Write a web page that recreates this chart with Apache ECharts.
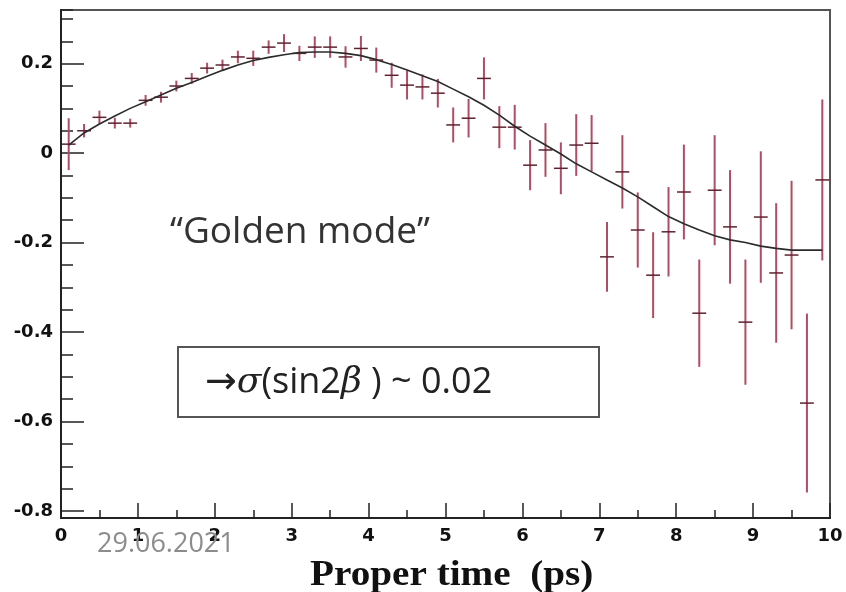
<!DOCTYPE html>
<html>
<head>
<meta charset="utf-8">
<script src="https://cdn.jsdelivr.net/npm/echarts@6/dist/echarts.min.js"></script>
<style>
  html, body { margin: 0; padding: 0; background: #fff; }
  #chart { width: 846px; height: 592px; }
</style>
</head>
<body>
<div id="chart"></div>
<script>
// Proper-time bins (ps), centre of each 0.2 ps bin
const times = [
  0.1, 0.3, 0.5, 0.7, 0.9, 1.1, 1.3, 1.5, 1.7, 1.9,
  2.1, 2.3, 2.5, 2.7, 2.9, 3.1, 3.3, 3.5, 3.7, 3.9,
  4.1, 4.3, 4.5, 4.7, 4.9, 5.1, 5.3, 5.5, 5.7, 5.9,
  6.1, 6.3, 6.5, 6.7, 6.9, 7.1, 7.3, 7.5, 7.7, 7.9,
  8.1, 8.3, 8.5, 8.7, 8.9, 9.1, 9.3, 9.5, 9.7, 9.9
];

// Measured asymmetry per bin
const asym = [
  0.020, 0.050, 0.080, 0.067, 0.067, 0.118, 0.125, 0.150, 0.167, 0.190,
  0.197, 0.215, 0.212, 0.237, 0.246, 0.223, 0.237, 0.237, 0.215, 0.234,
  0.208, 0.174, 0.152, 0.148, 0.134, 0.063, 0.078, 0.167, 0.058, 0.058,
  -0.027, 0.007, -0.034, 0.018, 0.022, -0.232, -0.042, -0.172, -0.273, -0.176,
  -0.087, -0.358, -0.083, -0.165, -0.378, -0.143, -0.268, -0.228, -0.559, -0.060
];

// Statistical error on each bin
const errs = [
  0.058, 0.015, 0.015, 0.012, 0.010, 0.012, 0.012, 0.012, 0.012, 0.012,
  0.012, 0.014, 0.017, 0.015, 0.020, 0.017, 0.024, 0.024, 0.024, 0.028,
  0.028, 0.028, 0.032, 0.028, 0.032, 0.039, 0.043, 0.047, 0.047, 0.050,
  0.056, 0.060, 0.058, 0.069, 0.063, 0.078, 0.082, 0.084, 0.096, 0.100,
  0.106, 0.120, 0.123, 0.127, 0.140, 0.147, 0.156, 0.166, 0.200, 0.180
];

// Fitted asymmetry curve evaluated at the bin centres
const fitCurve = [
  0.018, 0.045, 0.065, 0.083, 0.100, 0.115, 0.130, 0.145, 0.158, 0.172,
  0.185, 0.197, 0.207, 0.214, 0.220, 0.225, 0.226, 0.226, 0.223, 0.218,
  0.209, 0.198, 0.186, 0.173, 0.160, 0.143, 0.126, 0.107, 0.085, 0.060,
  0.038, 0.018, -0.002, -0.024, -0.042, -0.060, -0.078, -0.098, -0.120, -0.142,
  -0.158, -0.172, -0.185, -0.194, -0.200, -0.208, -0.213, -0.217, -0.217, -0.217
];

const halfBin = 0.09;

const pointData = times.map((t, i) => [t, asym[i], errs[i]]);
const fitData = times.map((t, i) => [t, fitCurve[i]]);

const tickFont = { fontFamily: 'DejaVu Sans', fontWeight: 'bold', fontSize: 18, color: '#111' };
const tickLine = { color: '#222', width: 1.5 };

const chart = echarts.init(document.getElementById('chart'), null, { renderer: 'canvas' });

chart.setOption({
  animation: false,
  backgroundColor: '#fff',
  grid: [
    // data frame
    { left: 61, right: 16, top: 10, bottom: 74, show: true, borderColor: '#555', borderWidth: 2, backgroundColor: 'transparent' },
    // y tick scale: -0.8 sits a few pixels above the time axis
    { left: 61, right: 16, top: 10, bottom: 81 }
  ],
  xAxis: [
    {
      gridIndex: 0, type: 'value', min: 0, max: 10, interval: 1,
      axisLine: { show: true, onZero: false, lineStyle: { color: '#222', width: 2 } },
      axisTick: { show: true, inside: true, length: 15, lineStyle: tickLine },
      minorTick: { show: true, splitNumber: 2, length: 8, lineStyle: tickLine },
      axisLabel: Object.assign({ margin: 9 }, tickFont),
      splitLine: { show: false }
    },
    { gridIndex: 1, type: 'value', min: 0, max: 10, show: false }
  ],
  yAxis: [
    {
      gridIndex: 0, type: 'value', min: -0.816, max: 0.32, position: 'left',
      axisLine: { show: true, onZero: false, lineStyle: { color: '#222', width: 2 } },
      axisTick: { show: false }, axisLabel: { show: false }, splitLine: { show: false }
    },
    {
      // labelled major ticks
      gridIndex: 1, type: 'value', min: -0.8, max: 0.32, interval: 0.2, position: 'left',
      axisLine: { show: false, onZero: false },
      axisTick: { show: true, inside: true, length: 23, lineStyle: tickLine },
      axisLabel: Object.assign({ margin: 8, showMaxLabel: false }, tickFont),
      splitLine: { show: false }
    },
    {
      // short ticks every 0.05
      gridIndex: 1, type: 'value', min: -0.8, max: 0.32, interval: 0.05, position: 'left',
      axisLine: { show: false, onZero: false },
      axisTick: { show: true, inside: true, length: 12, lineStyle: tickLine },
      axisLabel: { show: false },
      splitLine: { show: false }
    }
  ],
  series: [
    {
      type: 'custom',
      xAxisIndex: 0, yAxisIndex: 0,
      data: pointData,
      z: 2,
      renderItem: function (params, api) {
        const x = api.value(0), y = api.value(1), e = api.value(2);
        const top = api.coord([x, y + e]);
        const bot = api.coord([x, y - e]);
        const l = api.coord([x - halfBin, y]);
        const r = api.coord([x + halfBin, y]);
        return {
          type: 'group',
          children: [
            { type: 'line', shape: { x1: top[0], y1: top[1], x2: bot[0], y2: bot[1] },
              style: { stroke: '#ad4e62', lineWidth: 2 } },
            { type: 'line', shape: { x1: l[0], y1: l[1], x2: r[0], y2: r[1] },
              style: { stroke: '#5e2230', lineWidth: 1.5 } }
          ]
        };
      }
    },
    {
      type: 'line',
      xAxisIndex: 0, yAxisIndex: 0,
      data: fitData,
      showSymbol: false,
      smooth: false,
      z: 3,
      lineStyle: { color: '#2b2b2b', width: 1.6 }
    }
  ],
  graphic: [
    {
      type: 'text', x: 170, y: 214, z: 10,
      style: { text: '“Golden mode”', font: '37px "Open Sans"', fill: '#333' }
    },
    {
      type: 'rect', z: 10,
      shape: { x: 178, y: 347, width: 421, height: 70 },
      style: { fill: '#fff', stroke: '#555', lineWidth: 2 }
    },
    {
      type: 'text', x: 205, y: 364, z: 11,
      style: {
        text: '{r|→}{g|σ}{a|(sin2}{g|β}{a| ) ~ 0.02}',
        rich: {
          r: { font: '38px "DejaVu Sans"', fill: '#222' },
          a: { font: '36px "Open Sans"', fill: '#222' },
          g: { font: 'italic 36px "DejaVu Serif"', fill: '#222' }
        }
      }
    },
    {
      type: 'text', x: 97, y: 531, z: 10,
      style: { text: '29.06.2021', font: '27px "Open Sans"', fill: '#8c8c8c' }
    },
    {
      type: 'text', x: 310, y: 558, z: 10, scaleX: 1.12,
      style: { text: 'Proper time  (ps)', font: 'bold 35px "Liberation Serif"', fill: '#111' }
    }
  ]
});
</script>
</body>
</html>
